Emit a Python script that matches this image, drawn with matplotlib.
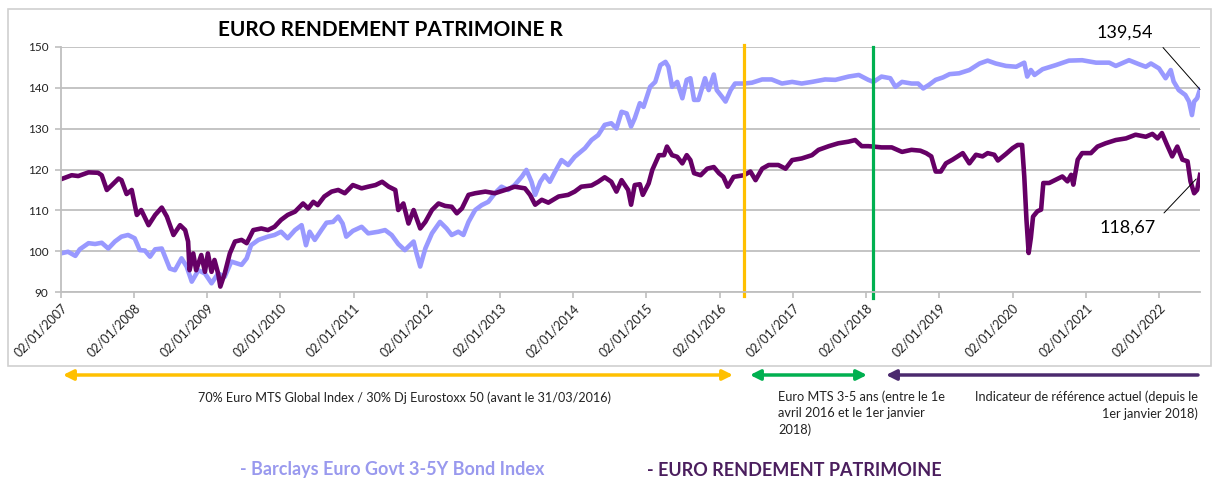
import matplotlib.pyplot as plt
from matplotlib.patches import Rectangle, FancyArrowPatch
import numpy as np

plt.rcParams['font.family'] = ['Lato', 'DejaVu Sans']

# Barclays Euro Govt 3-5Y Bond Index (light) - decimal year / value
bench_x = [2007.00, 2007.10, 2007.20, 2007.26, 2007.38, 2007.47, 2007.56, 2007.65, 2007.74, 2007.83,
           2007.92, 2008.01, 2008.08, 2008.15, 2008.22, 2008.29, 2008.38, 2008.49, 2008.56, 2008.65,
           2008.72, 2008.79, 2008.88, 2008.97, 2009.06, 2009.15, 2009.24, 2009.33, 2009.47, 2009.54,
           2009.60, 2009.70, 2009.83, 2009.92, 2010.01, 2010.10, 2010.20, 2010.29, 2010.35, 2010.40,
           2010.47, 2010.56, 2010.63, 2010.72, 2010.79, 2010.85, 2010.90, 2010.99, 2011.11, 2011.20,
           2011.34, 2011.43, 2011.52, 2011.61, 2011.70, 2011.82, 2011.86, 2011.91, 2011.98, 2012.07,
           2012.18, 2012.27, 2012.34, 2012.43, 2012.50, 2012.57, 2012.66, 2012.75, 2012.84, 2012.93,
           2013.02, 2013.11, 2013.20, 2013.30, 2013.36, 2013.43, 2013.48, 2013.55, 2013.61, 2013.68,
           2013.75, 2013.84, 2013.93, 2014.02, 2014.16, 2014.25, 2014.34, 2014.43, 2014.52, 2014.59,
           2014.66, 2014.73, 2014.79, 2014.84, 2014.91, 2014.96, 2015.05, 2015.12, 2015.19, 2015.26,
           2015.30, 2015.35, 2015.42, 2015.49, 2015.55, 2015.60, 2015.65, 2015.71, 2015.80, 2015.85,
           2015.92, 2015.96, 2016.03, 2016.08, 2016.15, 2016.21, 2016.33, 2016.44, 2016.58, 2016.71,
           2016.85, 2016.99, 2017.12, 2017.26, 2017.44, 2017.58, 2017.76, 2017.90, 2018.03, 2018.10,
           2018.21, 2018.33, 2018.40, 2018.49, 2018.62, 2018.71, 2018.78, 2018.86, 2018.95, 2019.05,
           2019.14, 2019.27, 2019.41, 2019.55, 2019.66, 2019.77, 2019.91, 2020.05, 2020.16, 2020.20,
           2020.25, 2020.30, 2020.41, 2020.59, 2020.77, 2020.95, 2021.14, 2021.32, 2021.41, 2021.59,
           2021.73, 2021.82, 2021.89, 2022.00, 2022.09, 2022.16, 2022.20, 2022.27, 2022.36, 2022.41,
           2022.45, 2022.48, 2022.52, 2022.56]
bench_y = [99.5, 99.9, 98.9, 100.5, 102.0, 101.8, 102.1, 100.7, 102.4, 103.6,
           104.0, 103.2, 100.3, 100.2, 98.7, 100.5, 100.7, 95.8, 95.4, 98.3,
           96.3, 92.6, 95.4, 94.6, 92.2, 94.6, 93.8, 97.5, 96.7, 98.3,
           101.5, 102.8, 103.6, 104.0, 104.8, 103.2, 105.2, 106.4, 101.5, 104.8,
           102.8, 105.2, 107.0, 107.2, 108.5, 106.8, 103.6, 105.0, 106.0, 104.4,
           104.8, 105.2, 104.0, 101.8, 100.3, 102.4, 99.5, 96.3, 100.7, 104.4,
           107.2, 105.6, 104.0, 104.8, 104.0, 107.2, 110.1, 111.3, 112.1, 114.2,
           115.8, 115.0, 116.2, 118.3, 119.9, 117.0, 113.8, 117.0, 118.6, 117.0,
           119.4, 122.3, 121.1, 123.1, 125.2, 127.2, 128.4, 130.9, 131.3, 130.0,
           134.1, 133.7, 130.5, 132.5, 136.2, 135.3, 140.2, 141.4, 145.5, 146.3,
           145.1, 140.2, 141.4, 137.4, 141.9, 142.3, 137.0, 137.0, 142.3, 139.4,
           143.2, 139.4, 137.8, 136.6, 139.4, 141.0, 141.0, 141.2, 142.0, 142.0,
           141.0, 141.4, 141.0, 141.4, 142.0, 141.9, 142.7, 143.1, 141.9, 141.4,
           142.7, 142.3, 140.2, 141.4, 141.0, 141.0, 139.8, 140.7, 141.9, 142.5,
           143.3, 143.5, 144.3, 145.9, 146.6, 145.9, 145.3, 145.1, 146.1, 142.7,
           144.3, 143.1, 144.5, 145.5, 146.6, 146.7, 146.1, 146.1, 145.3, 146.7,
           145.7, 145.1, 145.9, 144.7, 142.3, 144.3, 141.5, 139.4, 138.2, 136.6,
           133.3, 136.6, 137.4, 139.54]

# EURO RENDEMENT PATRIMOINE (dark)
fund_x = [2007.00, 2007.15, 2007.24, 2007.38, 2007.51, 2007.56, 2007.63, 2007.70, 2007.79, 2007.83,
          2007.90, 2007.97, 2008.04, 2008.10, 2008.20, 2008.29, 2008.38, 2008.45, 2008.54, 2008.63,
          2008.70, 2008.74, 2008.76, 2008.81, 2008.85, 2008.92, 2008.97, 2009.01, 2009.06, 2009.10,
          2009.15, 2009.18, 2009.24, 2009.31, 2009.38, 2009.47, 2009.54, 2009.63, 2009.74, 2009.83,
          2009.92, 2010.01, 2010.10, 2010.20, 2010.31, 2010.38, 2010.45, 2010.51, 2010.60, 2010.70,
          2010.79, 2010.88, 2010.99, 2011.11, 2011.20, 2011.30, 2011.39, 2011.48, 2011.57, 2011.61,
          2011.68, 2011.75, 2011.82, 2011.91, 2011.98, 2012.07, 2012.16, 2012.25, 2012.34, 2012.41,
          2012.48, 2012.57, 2012.66, 2012.80, 2012.93, 2013.07, 2013.20, 2013.34, 2013.41, 2013.48,
          2013.57, 2013.66, 2013.80, 2013.93, 2014.02, 2014.11, 2014.25, 2014.34, 2014.43, 2014.52,
          2014.59, 2014.66, 2014.75, 2014.79, 2014.84, 2014.91, 2014.95, 2015.03, 2015.08, 2015.17,
          2015.24, 2015.28, 2015.35, 2015.42, 2015.49, 2015.55, 2015.60, 2015.65, 2015.74, 2015.83,
          2015.92, 2015.99, 2016.05, 2016.11, 2016.19, 2016.33, 2016.42, 2016.49, 2016.58, 2016.67,
          2016.80, 2016.90, 2016.99, 2017.12, 2017.26, 2017.35, 2017.49, 2017.62, 2017.76, 2017.85,
          2017.94, 2018.03, 2018.10, 2018.21, 2018.35, 2018.49, 2018.62, 2018.74, 2018.82, 2018.89,
          2018.95, 2019.02, 2019.09, 2019.18, 2019.32, 2019.41, 2019.50, 2019.59, 2019.66, 2019.75,
          2019.80, 2019.91, 2020.00, 2020.07, 2020.13, 2020.16, 2020.19, 2020.22, 2020.25, 2020.28,
          2020.34, 2020.39, 2020.42, 2020.50, 2020.59, 2020.68, 2020.75, 2020.80, 2020.83, 2020.89,
          2020.95, 2021.07, 2021.16, 2021.27, 2021.41, 2021.55, 2021.68, 2021.82, 2021.91, 2021.98,
          2022.04, 2022.11, 2022.18, 2022.25, 2022.32, 2022.39, 2022.43, 2022.48, 2022.52, 2022.56]
fund_y = [117.6, 118.6, 118.4, 119.3, 119.2, 118.6, 115.0, 116.2, 117.8, 117.4,
          114.0, 115.0, 108.9, 110.1, 106.4, 108.9, 110.7, 108.5, 104.0, 106.4,
          105.2, 102.4, 95.4, 99.5, 95.4, 99.1, 95.0, 99.5, 95.0, 97.9,
          94.6, 91.4, 94.6, 99.5, 102.4, 102.8, 102.0, 105.2, 105.6, 105.2,
          106.0, 107.7, 108.9, 109.7, 111.7, 110.5, 112.1, 111.3, 113.4, 114.6,
          115.0, 114.2, 116.2, 115.4, 115.8, 116.2, 117.0, 115.8, 115.0, 110.1,
          111.7, 106.8, 110.1, 105.6, 107.2, 110.1, 111.7, 111.1, 110.9, 109.3,
          110.5, 113.8, 114.2, 114.6, 114.2, 115.0, 115.8, 115.4, 113.8, 111.4,
          112.6, 111.9, 113.4, 113.8, 114.6, 115.8, 116.1, 117.0, 118.1, 117.0,
          114.6, 117.4, 115.0, 111.4, 116.2, 116.4, 113.8, 116.6, 119.9, 123.5,
          123.5, 125.6, 123.5, 123.1, 121.5, 123.5, 122.3, 119.1, 118.6, 120.2,
          120.6, 119.1, 118.2, 115.8, 118.2, 118.6, 119.5, 117.4, 120.2, 121.1,
          121.1, 120.2, 122.3, 122.7, 123.5, 124.8, 125.7, 126.4, 126.8, 127.2,
          125.7, 125.7, 125.6, 125.4, 125.4, 124.3, 124.8, 124.6, 124.0, 123.2,
          119.5, 119.5, 121.5, 122.4, 124.0, 121.5, 123.6, 123.2, 124.0, 123.6,
          122.2, 123.8, 125.2, 126.0, 126.0, 118.3, 107.7, 99.6, 103.3, 108.5,
          109.8, 110.2, 116.7, 116.7, 117.5, 118.3, 117.1, 118.7, 116.3, 122.4,
          124.0, 124.0, 125.6, 126.4, 127.2, 127.6, 128.5, 128.0, 128.7, 127.6,
          128.9, 126.0, 123.2, 125.6, 122.4, 122.0, 117.1, 114.2, 115.0, 118.67]

years = list(range(2007, 2023))
tick_labels = ['02/01/%d' % y for y in years]
switch_1 = 2016.33   # changement d'indicateur (orange)
switch_2 = 2018.10   # changement d'indicateur (vert)

W, H = 1215, 482
fig = plt.figure(figsize=(W / 100, H / 100), dpi=100)

# cadre du graphique
fig.patches.append(Rectangle((8 / W, 1 - 366 / H), (1211 - 8) / W, (366 - 9) / H,
                             transform=fig.transFigure, fill=False,
                             edgecolor='#D0D0D0', lw=1.2))

ax = fig.add_axes([60.7 / W, 1 - 292.3 / H, (1200 - 60.7) / W, (292.3 - 46.7) / H])

ax.plot(bench_x, bench_y, color='#9999FF', lw=3.3, solid_joinstyle='round')
ax.plot(fund_x, fund_y, color='#660066', lw=3.3, solid_joinstyle='round')

ax.axvline(switch_1, ymin=-0.016, ymax=1.007, color='#FFC000', lw=2.3, clip_on=False)
ax.axvline(switch_2, ymin=-0.023, ymax=1.0, color='#00B050', lw=2.3, clip_on=False)

ax.set_xlim(2007, 2022.56)
ax.set_ylim(90, 150)
ax.set_yticks(range(90, 151, 10))
ax.set_xticks(years)
ax.set_xticklabels(tick_labels, rotation=45, ha='right', rotation_mode='anchor', fontsize=9)
ax.yaxis.grid(True, color='#BFBFBF', lw=1.3)
ax.set_axisbelow(True)
for s in ['top', 'right']:
    ax.spines[s].set_visible(False)
for s in ['left', 'bottom']:
    ax.spines[s].set_color('#BFBFBF')
    ax.spines[s].set_linewidth(1.3)
ax.tick_params(axis='both', length=4, width=1.2, color='#BFBFBF', labelsize=8.5,
               labelcolor='#222222')
ax.tick_params(axis='y', pad=5)
ax.tick_params(axis='x', pad=3, labelsize=9)

# dernieres valeurs
ax.annotate('', xy=(bench_x[-1], bench_y[-1]), xytext=(-37, 42), textcoords='offset pixels',
            arrowprops=dict(arrowstyle='-', color='black', lw=0.7, shrinkA=0, shrinkB=0))
ax.annotate('139,54', xy=(bench_x[-1], bench_y[-1]), xytext=(-75, 57),
            textcoords='offset pixels', ha='center', va='center', fontsize=13)
ax.annotate('', xy=(fund_x[-1], fund_y[-1]), xytext=(-36, -38), textcoords='offset pixels',
            arrowprops=dict(arrowstyle='-', color='black', lw=0.7, shrinkA=0, shrinkB=4))
ax.annotate('118,67', xy=(fund_x[-1], fund_y[-1]), xytext=(-72, -53),
            textcoords='offset pixels', ha='center', va='center', fontsize=13)

fig.text(390 / W, 1 - 30 / H, 'EURO RENDEMENT PATRIMOINE R', ha='center', va='center',
         fontsize=15, fontweight='bold')

# periodes des indicateurs de reference
for x0, x1, col, both in [(63, 733, '#FFC000', True), (750, 867, '#00B050', True),
                          (886, 1198, '#4B2A6E', False)]:
    style = ('<|-|>' if both else '<|-') + ',head_length=0.5,head_width=0.25'
    fig.patches.append(FancyArrowPatch(
        (x0 / W, 1 - 375 / H), (x1 / W, 1 - 375 / H), transform=fig.transFigure,
        arrowstyle=style, mutation_scale=12, color=col, lw=2.5, shrinkA=0, shrinkB=0))

fig.text(405 / W, 1 - 398 / H,
         '70% Euro MTS Global Index / 30% Dj Eurostoxx 50 (avant le 31/03/2016)',
         ha='center', va='center', fontsize=9.1, color='#222222')
fig.text(778 / W, 1 - 390 / H,
         'Euro MTS 3-5 ans (entre le 1e\navril 2016 et le 1er janvier\n2018)',
         ha='left', va='top', fontsize=9.2, color='#222222', linespacing=1.45)
fig.text(1198 / W, 1 - 390 / H,
         'Indicateur de référence actuel (depuis le\n1er janvier 2018)',
         ha='right', va='top', fontsize=9.2, color='#222222', linespacing=1.45,
         multialignment='right')

fig.text(392 / W, 1 - 470 / H, '- Barclays Euro Govt 3-5Y Bond Index', ha='center', va='center',
         fontsize=13, fontweight='bold', color='#9999EE')
fig.text(647 / W, 1 - 470 / H, '- EURO RENDEMENT PATRIMOINE', ha='left', va='center',
         fontsize=13, fontweight='bold', color='#4B1E5E')

fig.savefig('out.png', dpi=100)
